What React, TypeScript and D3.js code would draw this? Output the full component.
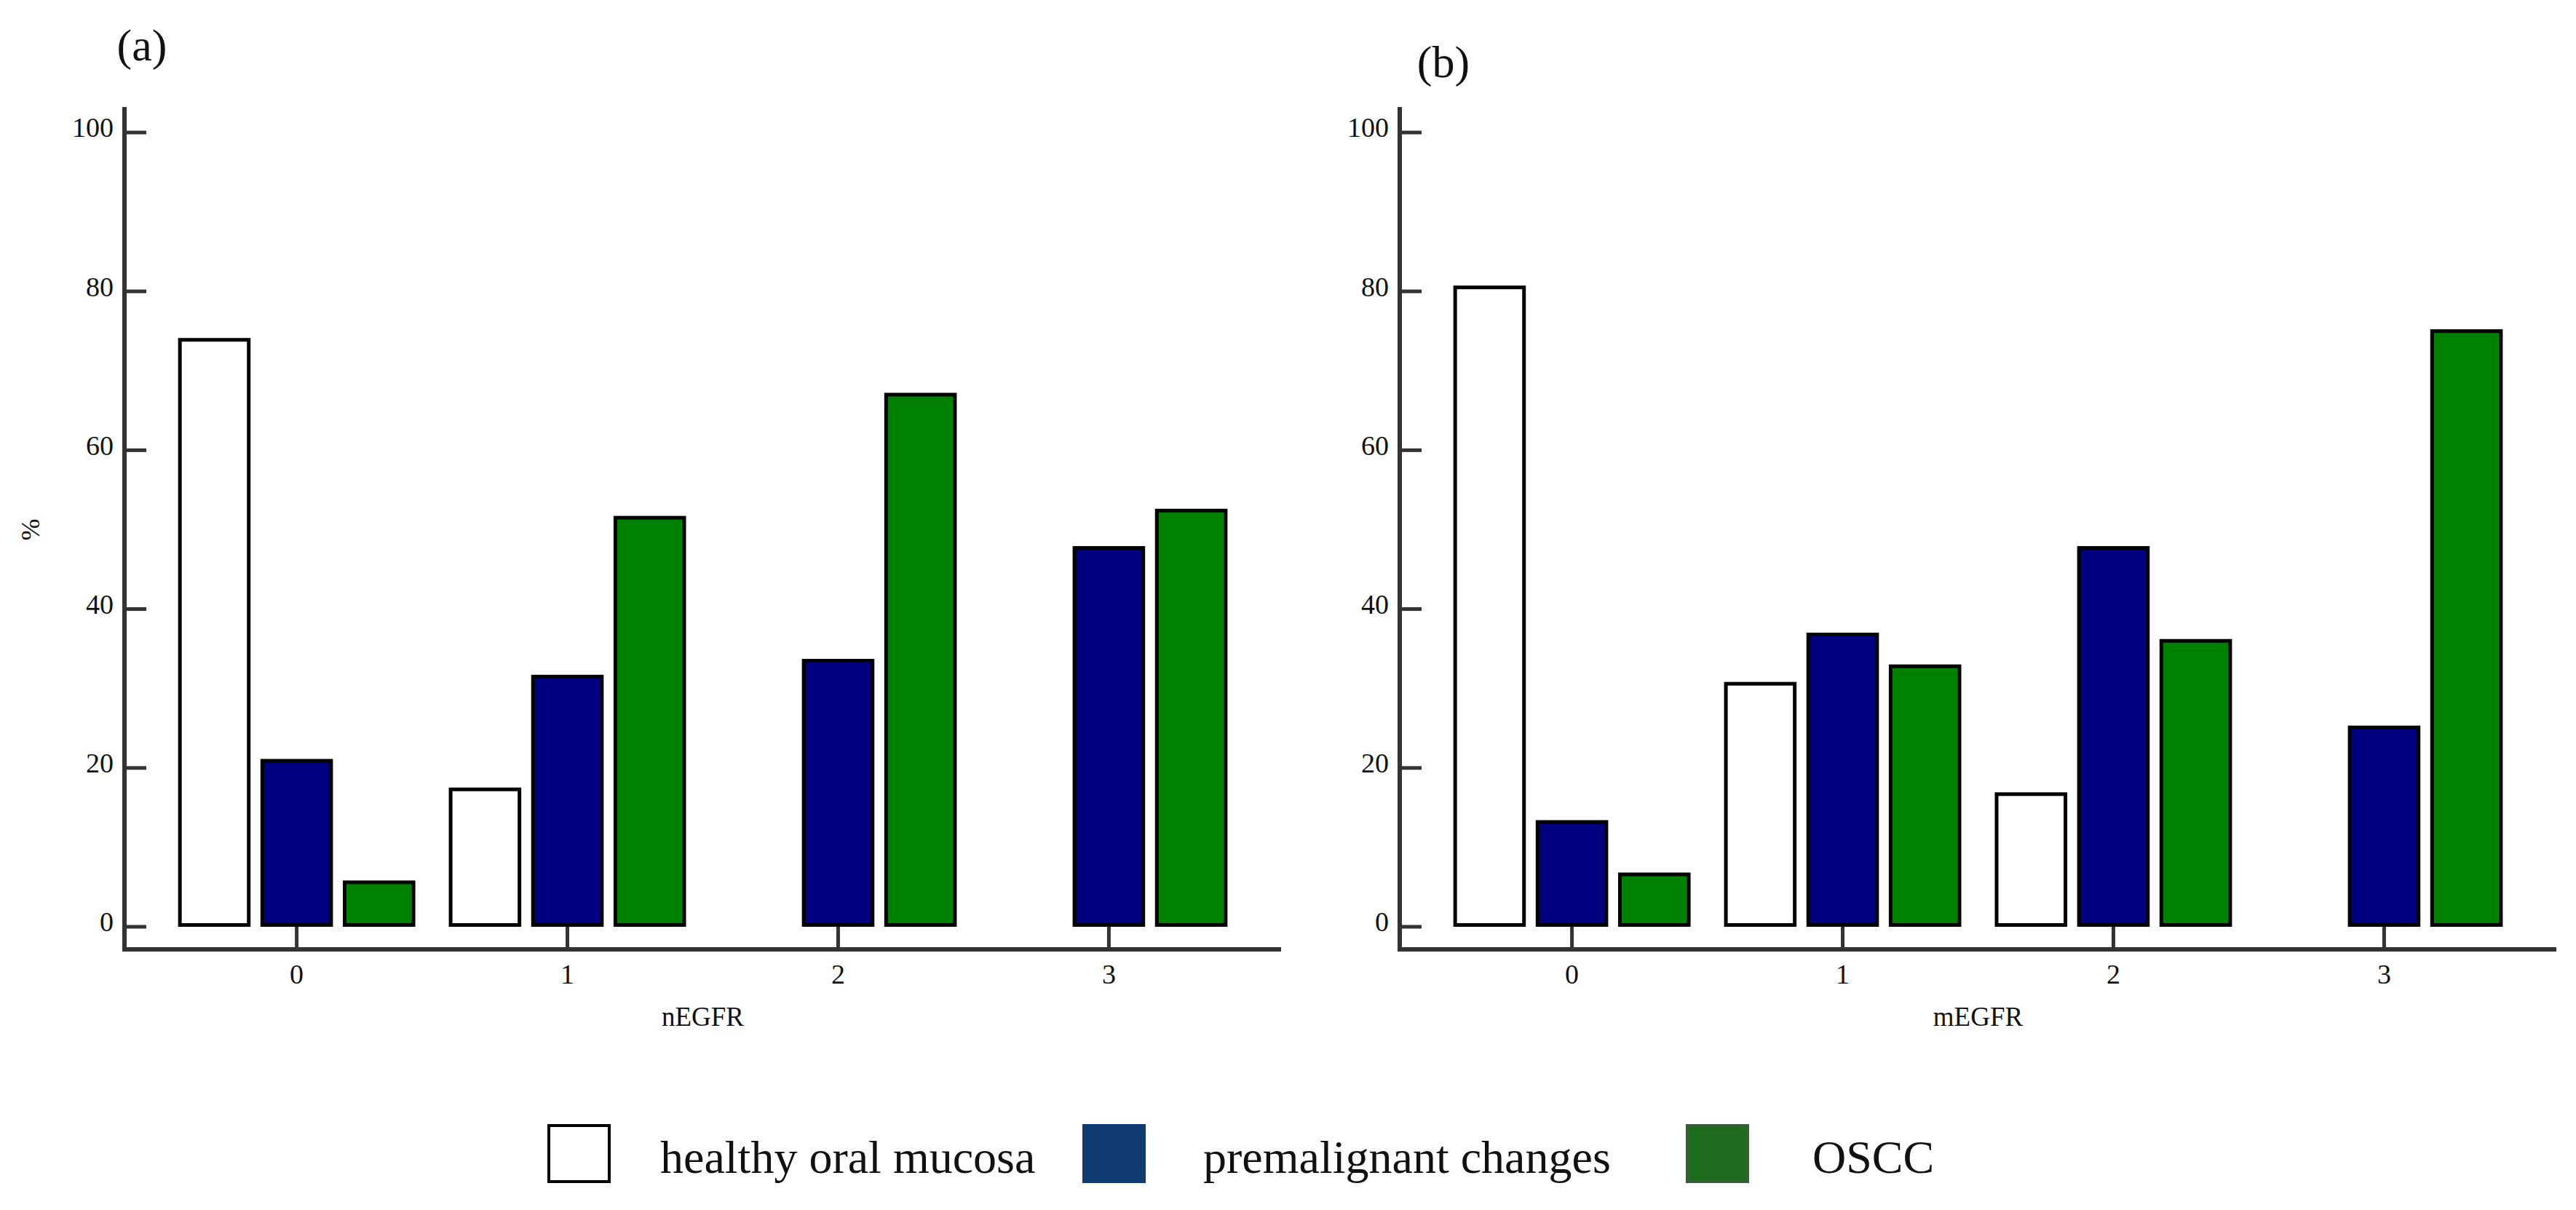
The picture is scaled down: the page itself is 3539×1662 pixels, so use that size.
import React from "react";
import * as d3 from "d3";

// ---- data ----
const categories = ["0", "1", "2", "3"];
const seriesNames = ["healthy oral mucosa", "premalignant changes", "OSCC"];
const yTicks = [0, 20, 40, 60, 80, 100];

// panel (a) nEGFR
const aHealthy = [73.9, 17.3, 0, 0];
const aPremalignant = [20.9, 31.5, 33.5, 47.7];
const aOSCC = [5.6, 51.5, 67.0, 52.4];

// panel (b) mEGFR
const bHealthy = [80.5, 30.6, 16.7, 0];
const bPremalignant = [13.2, 36.8, 47.7, 25.1];
const bOSCC = [6.6, 32.8, 36.0, 75.0];

// ---- styling ----
const W = 3539;
const H = 1662;
const FONT = "'Liberation Serif', 'Times New Roman', serif";
const barFill = ["#ffffff", "#000080", "#008000"];
const legendFill = ["#ffffff", "#0f3b70", "#1d6c1d"];
const legendStroke = ["#000000", "#0f3b70", "#3e5a3e"];
const AXIS = "#333333";

const Y0 = 1273;
const Y100 = 182;
const AXIS_TOP = 147;
const XAXIS_Y = 1304;

const panels = [
  { tag: "(a)", tagX: 195, tagY: 83, x0: 171, x1: 1760, title: "nEGFR", data: [aHealthy, aPremalignant, aOSCC] },
  { tag: "(b)", tagX: 1983, tagY: 106, x0: 1923, x1: 3512, title: "mEGFR", data: [bHealthy, bPremalignant, bOSCC] },
];

const legendBoxX = [754, 1489, 2318];
const legendTextX = [907, 1653, 2490];

function Panel({ p }: { p: (typeof panels)[number] }) {
  const y = d3.scaleLinear().domain([0, 100]).range([Y0, Y100]);
  const x = d3
    .scaleBand<string>()
    .domain(categories)
    .range([p.x0, p.x1])
    .paddingInner(0.1237)
    .paddingOuter(0.198);
  const xi = d3
    .scaleBand<number>()
    .domain([0, 1, 2])
    .range([0, x.bandwidth()])
    .paddingInner(0.12);
  const sw = 5;
  return (
    <g>
      <text x={p.tagX} y={p.tagY} fontFamily={FONT} fontSize={62} textAnchor="middle" fill="#111">
        {p.tag}
      </text>
      {/* bars */}
      {categories.map((c, ci) =>
        p.data.map((vals, si) => {
          const v = vals[ci];
          if (!v) return null;
          const bx = (x(c) as number) + (xi(si) as number) + sw / 2;
          const bw = xi.bandwidth() - sw;
          return (
            <rect
              key={`${c}-${si}`}
              x={bx}
              y={y(v)}
              width={bw}
              height={y(0) - y(v) - sw / 2}
              fill={barFill[si]}
              stroke="#000"
              strokeWidth={sw}
            />
          );
        })
      )}
      {/* y axis */}
      <line x1={p.x0} x2={p.x0} y1={AXIS_TOP} y2={XAXIS_Y + 3} stroke={AXIS} strokeWidth={6} />
      {yTicks.map((t) => (
        <g key={t}>
          <line x1={p.x0} x2={p.x0 + 30} y1={y(t)} y2={y(t)} stroke={AXIS} strokeWidth={5} />
          <text
            x={p.x0 - 15}
            y={y(t) - 7}
            dy="0.35em"
            fontFamily={FONT}
            fontSize={38}
            textAnchor="end"
            fill="#111"
          >
            {t}
          </text>
        </g>
      ))}
      {/* x axis */}
      <line x1={p.x0 - 3} x2={p.x1} y1={XAXIS_Y} y2={XAXIS_Y} stroke={AXIS} strokeWidth={6} />
      {categories.map((c) => {
        const cx = (x(c) as number) + x.bandwidth() / 2;
        return (
          <g key={c}>
            <line x1={cx} x2={cx} y1={XAXIS_Y} y2={Y0} stroke={AXIS} strokeWidth={5} />
            <text x={cx} y={1338} dy="0.35em" fontFamily={FONT} fontSize={38} textAnchor="middle" fill="#111">
              {c}
            </text>
          </g>
        );
      })}
      <text x={(p.x0 + p.x1) / 2} y={1409} fontFamily={FONT} fontSize={37} textAnchor="middle" fill="#111">
        {p.title}
      </text>
    </g>
  );
}

export default function App() {
  return (
    <svg
      width={W}
      height={H}
      viewBox={`0 0 ${W} ${H}`}
      style={{ position: "absolute", left: 0, top: 0, background: "#fff" }}
    >
      <rect x={0} y={0} width={W} height={H} fill="#fff" />
      {panels.map((p) => (
        <Panel key={p.tag} p={p} />
      ))}
      <text
        transform={`translate(41, ${(Y0 + Y100) / 2}) rotate(-90)`}
        fontFamily={FONT}
        fontSize={36}
        textAnchor="middle"
        dy="0.35em"
        fill="#111"
      >
        %
      </text>
      {/* legend */}
      {seriesNames.map((s, i) => (
        <g key={s}>
          <rect
            x={legendBoxX[i]}
            y={1546}
            width={83}
            height={77}
            fill={legendFill[i]}
            stroke={legendStroke[i]}
            strokeWidth={4}
          />
          <text x={legendTextX[i]} y={1611} fontFamily={FONT} fontSize={64} fill="#111">
            {s}
          </text>
        </g>
      ))}
    </svg>
  );
}
